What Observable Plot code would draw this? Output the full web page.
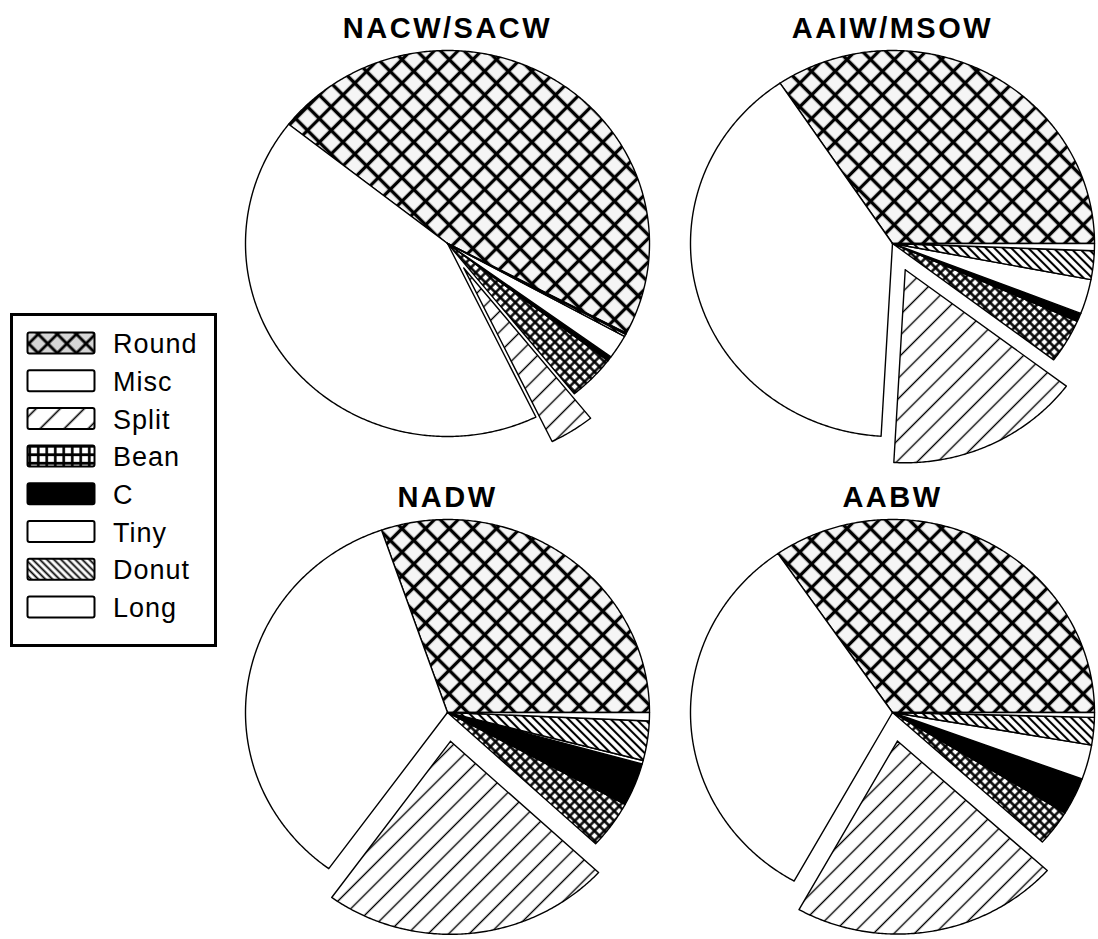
<!DOCTYPE html>
<html><head><meta charset="utf-8">
<script src="https://cdn.jsdelivr.net/npm/d3@7"></script>
<script src="https://cdn.jsdelivr.net/npm/@observablehq/plot@0.6"></script>
<style>
body{margin:0;background:#fff;}
#wrap{position:relative;width:1098px;height:939px;overflow:hidden;background:#fff;}
#chart svg text{letter-spacing:2.5px;}
#legend{position:absolute;left:0;top:0;pointer-events:none;}
#legend text{letter-spacing:1px;}
</style></head><body>
<svg width="0" height="0" style="position:absolute">
<defs>
<pattern id="pRound" patternUnits="userSpaceOnUse" width="16.7" height="16.7" patternTransform="rotate(45)">
 <rect width="16.7" height="16.7" fill="#f5f5f5"/>
 <path d="M0 8.35H16.7M8.35 0V16.7" stroke="#000" stroke-width="3.3"/>
</pattern>
<pattern id="pSplit" patternUnits="userSpaceOnUse" width="14.5" height="14.5" patternTransform="rotate(45)">
 <rect width="14.5" height="14.5" fill="#fff"/>
 <path d="M7.25 0V14.5" stroke="#000" stroke-width="1.4"/>
</pattern>
<pattern id="pBean" patternUnits="userSpaceOnUse" width="7" height="7" patternTransform="rotate(45)">
 <rect width="7" height="7" fill="#fff"/>
 <path d="M0 3.5H7M3.5 0V7" stroke="#000" stroke-width="2.4"/>
</pattern>
<pattern id="pDonut" patternUnits="userSpaceOnUse" width="6" height="6" patternTransform="rotate(-45)">
 <rect width="6" height="6" fill="#fff"/>
 <path d="M3 0V6" stroke="#000" stroke-width="2.1"/>
</pattern>
<pattern id="pRoundL" patternUnits="userSpaceOnUse" width="13.5" height="13.5" patternTransform="rotate(45)">
 <rect width="13.5" height="13.5" fill="#d6d6d6"/>
 <path d="M0 6.75H13.5M6.75 0V13.5" stroke="#000" stroke-width="2.8"/>
</pattern>
<pattern id="pSplitL" patternUnits="userSpaceOnUse" width="17" height="17" patternTransform="rotate(45)">
 <rect width="17" height="17" fill="#fff"/>
 <path d="M8.5 0V17" stroke="#000" stroke-width="1.6"/>
</pattern>
<pattern id="pBeanL" patternUnits="userSpaceOnUse" width="8.5" height="8.5">
 <rect width="8.5" height="8.5" fill="#fff"/>
 <path d="M0 4.25H8.5M4.25 0V8.5" stroke="#000" stroke-width="2.6"/>
</pattern>
<pattern id="pDonutL" patternUnits="userSpaceOnUse" width="5" height="5" patternTransform="rotate(-45)">
 <rect width="5" height="5" fill="#fff"/>
 <path d="M2.5 0V5" stroke="#000" stroke-width="1.8"/>
</pattern>
</defs></svg>
<div id="wrap"><div id="chart"></div><svg id="legend" width="240" height="939"></svg></div>
<script>
// ---- data ----
const categories = ["Round", "Misc", "Split", "Bean", "C", "Tiny", "Donut", "Long"];
const pieNames = ["NACW/SACW", "AAIW/MSOW", "NADW", "AABW"];
const nacwSacw = [47.1, 42.8, 3.6, 3.8, 0.4, 2.0, 0.2, 0.1];
const aaiwMsow = [34.4, 39.7, 15.6, 3.7, 0.7, 2.9, 2.4, 0.6];
const nadw     = [30.3, 34.7, 23.1, 4.0, 3.6, 0.3, 3.3, 0.7];
const aabw     = [34.6, 32.3, 21.4, 3.0, 3.1, 2.9, 2.3, 0.4];
const seriesValues = [nacwSacw, aaiwMsow, nadw, aabw];

// ---- layout / style ----
const layout = {
  startDeg: [-27.7, 0, 0, 0],
  col: [0, 1, 0, 1],
  row: [0, 0, 1, 1],
  explode: "Split",
  explodeDist: 0.15,
  titleY: 1.114
};
const pieFill = {Round: "url(#pRound)", Misc: "white", Split: "url(#pSplit)", Bean: "url(#pBean)",
  C: "black", Tiny: "white", Donut: "url(#pDonut)", Long: "white"};
const legendFill = {Round: "url(#pRoundL)", Misc: "white", Split: "url(#pSplitL)", Bean: "url(#pBeanL)",
  C: "black", Tiny: "white", Donut: "url(#pDonutL)", Long: "white"};
const FONT = "'Liberation Sans', Arial, Helvetica, sans-serif";

// ---- slice polygons from values ----
const poly = [];
seriesValues.forEach((vals, p) => {
  const total = d3.sum(vals);
  let a = layout.startDeg[p] * Math.PI / 180;
  vals.forEach((v, i) => {
    const span = v / total * 2 * Math.PI;
    const a0 = a; a += span;
    const mid = a0 + span / 2;
    const off = categories[i] === layout.explode ? layout.explodeDist : 0;
    const ox = off * Math.cos(mid), oy = off * Math.sin(mid);
    const base = {pie: pieNames[p], cat: categories[i], key: pieNames[p] + "|" + categories[i],
      fx: layout.col[p], fy: layout.row[p]};
    const n = Math.max(2, Math.ceil(span / (Math.PI / 360)));
    poly.push({...base, x: ox, y: oy});
    for (let k = 0; k <= n; k++) {
      const t = a0 + span * k / n;
      poly.push({...base, x: ox + Math.cos(t), y: oy + Math.sin(t)});
    }
    poly.push({...base, x: ox, y: oy});
  });
});
const titles = pieNames.map((name, p) => ({name, fx: layout.col[p], fy: layout.row[p]}));

const marks = categories.map(c => Plot.line(poly.filter(d => d.cat === c), {
  x: "x", y: "y", z: "key", fx: "fx", fy: "fy",
  fill: pieFill[c], stroke: "black", strokeWidth: 1.4, strokeLinejoin: "round"
}));
marks.push(Plot.text(titles, {
  x: () => 0, y: () => layout.titleY, fx: "fx", fy: "fy", text: "name",
  fontSize: 29, fontWeight: "bold", fontFamily: FONT, fill: "black"
}));

const chart = Plot.plot({
  width: 1098, height: 939,
  marginLeft: 208, marginRight: 0, marginTop: 0, marginBottom: 1,
  x: {domain: [-239 / 202, 206 / 202], axis: null},
  y: {domain: [-226 / 193, 243 / 193], axis: null},
  fx: {domain: [0, 1], padding: 0, axis: null},
  fy: {domain: [0, 1], padding: 0, axis: null},
  style: {background: "transparent", overflow: "visible"},
  marks
});
document.getElementById("chart").appendChild(chart);

// ---- legend ----
const lg = d3.select("#legend");
lg.append("rect").attr("x", 11.5).attr("y", 314.5).attr("width", 204).attr("height", 331)
  .attr("fill", "white").attr("stroke", "black").attr("stroke-width", 3);
const rowStep = 37.7, top0 = 332.5;
categories.forEach((c, i) => {
  const y = top0 + i * rowStep;
  lg.append("rect").attr("x", 27.5).attr("y", y).attr("width", 67).attr("height", 21).attr("rx", 2)
    .attr("fill", legendFill[c]).attr("stroke", "black").attr("stroke-width", 2);
  lg.append("text").attr("x", 113).attr("y", y + 11).attr("dy", "0.36em")
    .attr("font-family", FONT).attr("font-size", 27).attr("fill", "black").text(c);
});
</script>
</body></html>
